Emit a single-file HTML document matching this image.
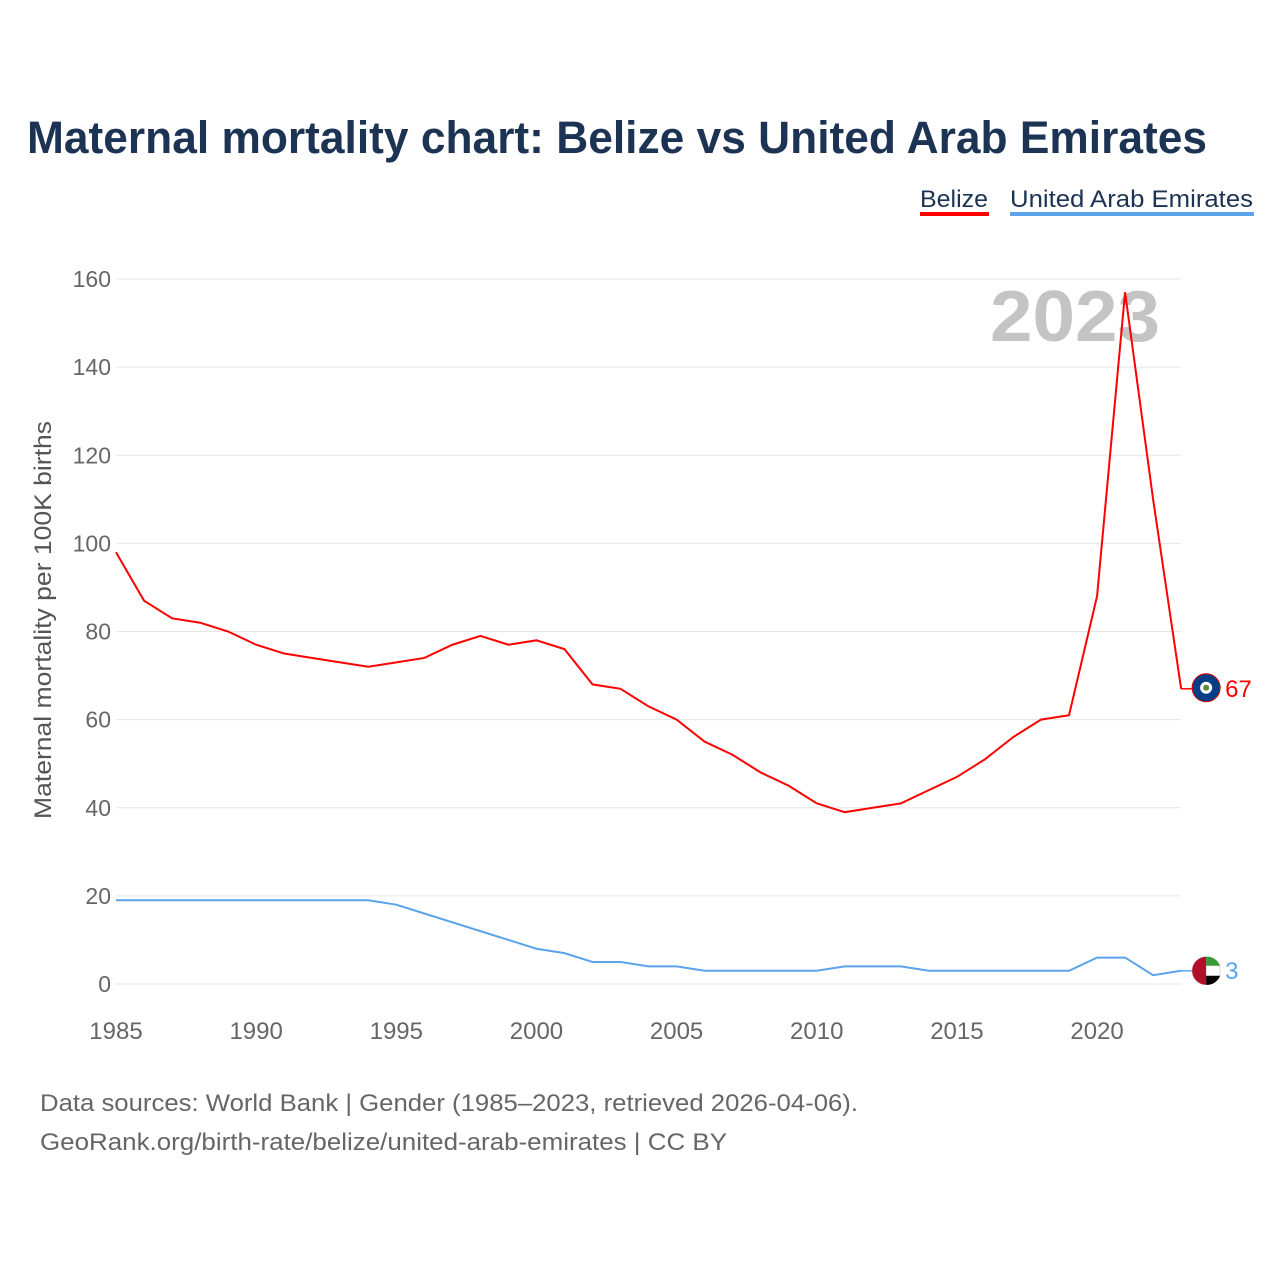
<!DOCTYPE html>
<html><head><meta charset="utf-8"><style>
body{margin:0;background:#fff;font-family:"Liberation Sans",sans-serif}
svg text{font-family:"Liberation Sans",sans-serif}
</style></head><body>
<svg id="chart" width="1280" height="1280" xmlns="http://www.w3.org/2000/svg">
<text x="27" y="153" font-size="45" font-weight="bold" fill="#1c3353" textLength="1180" lengthAdjust="spacingAndGlyphs">Maternal mortality chart: Belize vs United Arab Emirates</text>
<g><text x="920" y="207" font-size="24" fill="#1c3353" textLength="68" lengthAdjust="spacingAndGlyphs">Belize</text><rect x="920" y="212" width="69" height="4" fill="#ff0000"/></g>
<g><text x="1010" y="207" font-size="24" fill="#1c3353" textLength="243" lengthAdjust="spacingAndGlyphs">United Arab Emirates</text><rect x="1010" y="212" width="244" height="4" fill="#5ba3ea"/></g>
<text x="1160" y="341" font-size="72" font-weight="bold" fill="#c4c4c4" text-anchor="end" textLength="170" lengthAdjust="spacingAndGlyphs">2023</text>
<text transform="translate(51,620) rotate(-90)" font-size="24" fill="#555" text-anchor="middle" textLength="398" lengthAdjust="spacingAndGlyphs">Maternal mortality per 100K births</text>
<g id="grid"></g><g id="lines"></g>
<text x="40" y="1111" font-size="24" fill="#666" textLength="818" lengthAdjust="spacingAndGlyphs">Data sources: World Bank | Gender (1985–2023, retrieved 2026-04-06).</text>
<text x="40" y="1150" font-size="24" fill="#666" textLength="687" lengthAdjust="spacingAndGlyphs">GeoRank.org/birth-rate/belize/united-arab-emirates | CC BY</text>
</svg>
<script>
const years=[];for(let y=1985;y<=2023;y++)years.push(y);
const belize=[98,87,83,82,80,77,75,74,73,72,73,74,77,79,77,78,76,68,67,63,60,55,52,48,45,41,39,40,41,44,47,51,56,60,61,88,157,110,67];
const uae=[19,19,19,19,19,19,19,19,19,19,18,16,14,12,10,8,7,5,5,4,4,3,3,3,3,3,4,4,4,3,3,3,3,3,3,6,6,2,3];
const yTicks=[0,20,40,60,80,100,120,140,160];
const xTicks=[1985,1990,1995,2000,2005,2010,2015,2020];
const NS="http://www.w3.org/2000/svg";
const X=v=>116+(v-1985)*28.03, Y=v=>984-v*4.406;
const grid=document.getElementById('grid'),lines=document.getElementById('lines');
function mk(tag,attrs,parent,txt){const e=document.createElementNS(NS,tag);for(const k in attrs)e.setAttribute(k,attrs[k]);if(txt!==undefined)e.textContent=txt;parent.appendChild(e);return e;}
yTicks.forEach(t=>{
 const l=mk('line',{x1:116,x2:1181,y1:Y(t),y2:Y(t),stroke:'#e6e6e6','stroke-width':1},grid);
 
 
 const tx=mk('text',{x:111,y:Y(t)+8,'font-size':23,fill:'#666','text-anchor':'end'},grid,t);
 
 
});
xTicks.forEach(t=>{
 const tx=mk('text',{x:X(t),y:1039,'font-size':24,fill:'#666','text-anchor':'middle'},grid,t);
 
 
});
function series(vals,color,name){
 const p=mk('path',{d:vals.map((v,i)=>(i?'L':'M')+X(years[i])+','+Y(v)).join(''),fill:'none',stroke:color,'stroke-width':2},lines);
 
 
 const last=vals[vals.length-1],lx=X(years[years.length-1]);
 mk('line',{x1:lx,x2:lx+12,y1:Y(last),y2:Y(last),stroke:color,'stroke-width':1.5},lines);
 const cy=Y(last)+(name==='belize'?-1:0);
 const c=mk('circle',{cx:lx+25,cy:cy,r:14,fill:name==='belize'?'#003f87':'#fff',stroke:name==='belize'?'#d00':'#ddd','stroke-width':1},lines);
 
 
 if(name==='belize'){mk('circle',{cx:lx+25,cy:cy,r:6,fill:'#fff'},lines);mk('circle',{cx:lx+25,cy:cy,r:3,fill:'#5a8a3a'},lines);}
 else{mk('path',{d:`M${lx+25},${cy-14} A14,14 0 0 1 ${lx+39},${cy-5} L${lx+25},${cy-5}Z`,fill:'#3a9a3a'},lines);
  mk('path',{d:`M${lx+25},${cy+5} L${lx+39},${cy+5} A14,14 0 0 1 ${lx+25},${cy+14}Z`,fill:'#000'},lines);
  mk('path',{d:`M${lx+25},${cy-14} A14,14 0 0 0 ${lx+25},${cy+14}Z`,fill:'#b0102a'},lines);}
 const t=mk('text',{x:lx+44,y:Y(last)+8,'font-size':24,fill:color},lines,last);
 
 
}
series(belize,'#ff0000','belize');
series(uae,'#5ba3ea','uae');
</script>
</body></html>
